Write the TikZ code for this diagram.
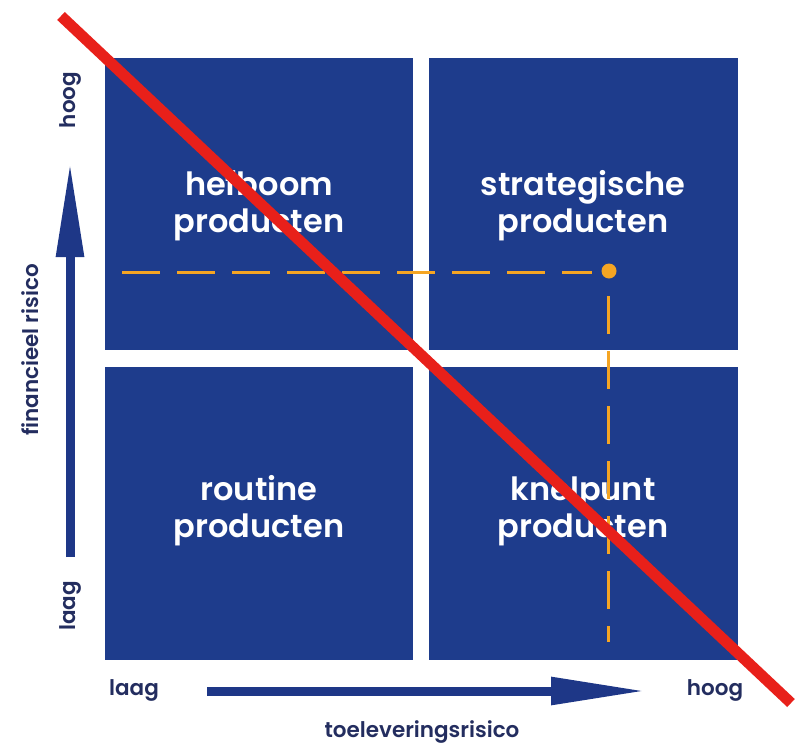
\documentclass[tikz,border=0pt]{standalone}
\usepackage{fontspec}
\setmainfont{Poppins}[BoldFont={* SemiBold}]
\usetikzlibrary{arrows.meta}
\definecolor{boxblue}{RGB}{30,60,140}
\definecolor{navy}{RGB}{35,45,95}
\definecolor{arrowblue}{RGB}{30,55,135}
\definecolor{redline}{RGB}{232,32,26}
\definecolor{orangeline}{RGB}{245,165,35}
\begin{document}
\begin{tikzpicture}[x=1pt,y=-1pt,
  quad/.style={fill=boxblue,draw=none,inner sep=0pt},
  quadtext/.style={text=white,font=\fontsize{32}{37}\selectfont\bfseries,align=center},
  axislabel/.style={text=navy,font=\fontsize{21.5}{24}\selectfont\bfseries,inner sep=0pt},
  dashline/.style={orangeline,line width=3pt,dash pattern=on 38pt off 17pt},
  axisarrow/.style={arrowblue,line width=9pt,-{Triangle[length=95pt,width=26pt]}}]
\useasboundingbox (0,0) rectangle (795,747);
% quadrants
\fill[quad] (105,58) rectangle (413,350);
\fill[quad] (429,58) rectangle (738,350);
\fill[quad] (105,367) rectangle (413,660);
\fill[quad] (429,367) rectangle (738,660);
\node[quadtext] (hef) at (259,206) {hefboom\\producten};
\node[quadtext] (str) at (583,206) {strategische\\producten};
\node[quadtext] (rou) at (259,511) {routine\\producten};
\node[quadtext] (kne) at (583,511) {knelpunt\\producten};
% orange dashed lines and dot
\coordinate (hstart) at (122,272);
\coordinate (hend) at (592,272);
\coordinate (vstart) at (608,296);
\coordinate (vend) at (608,642);
\node[circle,fill=orangeline,minimum size=15pt,inner sep=0pt] (dot) at (609,271) {};
\draw[dashline] (hstart) -- (hend);
\draw[dashline] (vstart) -- (vend);
% axes
\coordinate (va) at (70,557);
\coordinate (vb) at (70,162);
\draw[axisarrow] (va) -- (vb);
\coordinate (ha) at (207,691);
\coordinate (hb) at (646,691);
\draw[axisarrow] (ha) -- (hb);
\node[axislabel,rotate=90] (yhoog) at (70,100) {hoog};
\node[axislabel,rotate=90] (ylaag) at (70,606) {laag};
\node[axislabel,rotate=90] (ytitle) at (30,350) {financieel risico};
\node[axislabel] (xlaag) at (134,690) {laag};
\node[axislabel] (xhoog) at (715,690) {hoog};
\node[axislabel] (xtitle) at (422,732) {toeleveringsrisico};
% red diagonal
\coordinate (r1) at (61,16);
\coordinate (r2) at (791,703);
\draw[redline,line width=11pt] (r1) -- (r2);
\end{tikzpicture}
\end{document}
